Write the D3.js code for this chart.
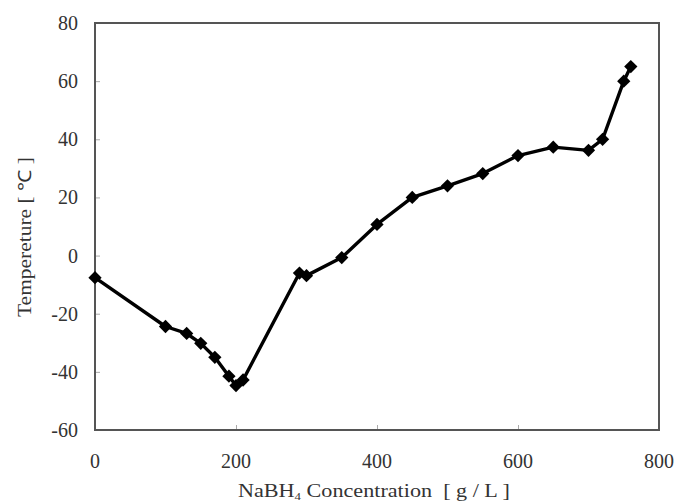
<!DOCTYPE html>
<html><head><meta charset="utf-8">
<script src="https://cdn.jsdelivr.net/npm/d3@7"></script>
<style>body{margin:0;background:#fff}svg{display:block}</style>
</head><body><svg id="c" width="677" height="503"></svg>
<script>
const concentration = [0,100,130,150,170,190,200,210,290,300,350,400,450,500,550,600,650,700,720,750,760];
const temperature = [-7.6,-24.4,-26.8,-30.2,-35,-41.5,-44.7,-42.8,-6,-6.9,-0.7,10.7,20,24,28.2,34.4,37.3,36.2,40,60,65];
const xTicks = [0,200,400,600,800];
const yTicks = [-60,-40,-20,0,20,40,60,80];

const svg = d3.select("#c");
const m = {l:95,t:23,r:659,b:430};
const x = d3.scaleLinear().domain([0,800]).range([m.l,m.r]);
const y = d3.scaleLinear().domain([-60,80]).range([m.b,m.t]);
const font = "'Liberation Serif','Times New Roman',serif";

// ticks (inward)
svg.append("g").attr("transform",`translate(${m.l},0)`)
  .call(d3.axisRight(y).tickValues(yTicks).tickSize(5).tickFormat(""))
  .call(g=>g.select(".domain").remove())
  .call(g=>g.selectAll("line").attr("stroke","#aaa"));
svg.append("g").attr("transform",`translate(0,${m.b})`)
  .call(d3.axisTop(x).tickValues(xTicks).tickSize(5).tickFormat(""))
  .call(g=>g.select(".domain").remove())
  .call(g=>g.selectAll("line").attr("stroke","#aaa"));

// tick labels
svg.append("g").selectAll("text").data(yTicks).join("text")
  .attr("x",m.l-17).attr("y",d=>y(d)).attr("dy","0.35em")
  .attr("text-anchor","end").attr("font-family",font).attr("font-size",20).attr("fill","#333")
  .text(d=>d);
svg.append("g").selectAll("text").data(xTicks).join("text")
  .attr("x",d=>x(d)).attr("y",m.b+38)
  .attr("text-anchor","middle").attr("font-family",font).attr("font-size",20).attr("fill","#333")
  .text(d=>d);

// frame
svg.append("rect").attr("x",m.l).attr("y",m.t).attr("width",m.r-m.l).attr("height",m.b-m.t)
  .attr("fill","none").attr("stroke","#555").attr("stroke-width",2);

const data = concentration.map((c,i)=>({c,t:temperature[i]}));
svg.append("path").datum(data)
  .attr("d",d3.line().x(d=>x(d.c)).y(d=>y(d.t)))
  .attr("fill","none").attr("stroke","#000").attr("stroke-width",3.4).attr("stroke-linejoin","round");
svg.append("g").selectAll("path").data(data).join("path")
  .attr("transform",d=>`translate(${x(d.c)},${y(d.t)}) rotate(45)`)
  .attr("d",d3.symbol(d3.symbolSquare,88)())
  .attr("fill","#000");

// axis titles
const xt = svg.append("text").attr("x",238).attr("y",497)
  .attr("font-family",font).attr("font-size",19).attr("fill","#333")
  .attr("textLength",272).attr("lengthAdjust","spacingAndGlyphs");
xt.append("tspan").text("NaBH");
xt.append("tspan").attr("font-size",11).attr("dy",3).text("4");
xt.append("tspan").attr("dy",-3).text(" Concentration\u00a0\u00a0[ g / L ]");

svg.append("text").attr("transform","translate(31,237) rotate(-90)").attr("text-anchor","middle")
  .attr("font-family",font).attr("font-size",18).attr("fill","#333")
  .attr("textLength",160).attr("lengthAdjust","spacingAndGlyphs")
  .text("Tempereture [ \u2103 ]");
</script></body></html>
